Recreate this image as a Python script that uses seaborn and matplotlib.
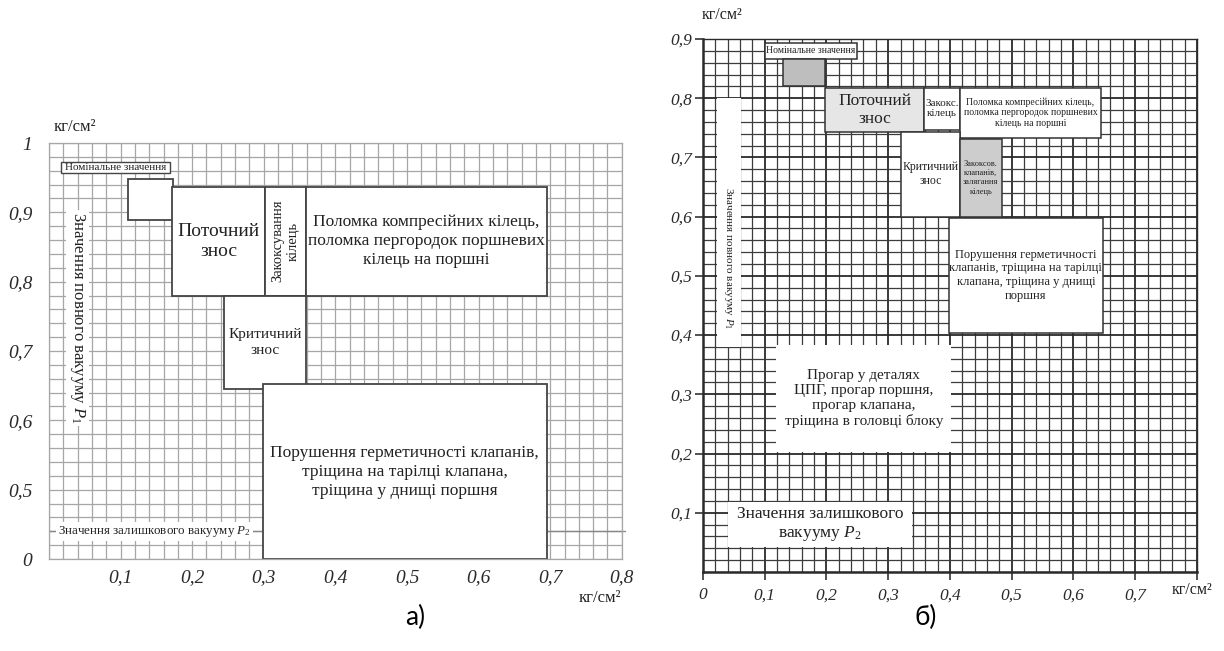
import numpy as np
import matplotlib.pyplot as plt
import seaborn as sns
from matplotlib.ticker import FixedLocator

sns.set_theme(style="white")
plt.rcParams['font.family'] = ['Liberation Serif', 'DejaVu Serif']
plt.rcParams['mathtext.fontset'] = 'custom'
plt.rcParams['mathtext.rm'] = 'Liberation Serif'
plt.rcParams['mathtext.it'] = 'Liberation Serif:italic'

# ---- panel а): zones, kg/cm2 (y below 0.5 is squeezed on the axis)
a_labels = ["Номінальне значення", "", "Поточний\nзнос", "Закоксування\nкілець",
            "Поломка компресійних кілець,\nполомка пергородок поршневих\nкілець на поршні",
            "Критичний\nзнос",
            "Порушення герметичності клапанів,\nтріщина на тарілці клапана,\nтріщина у днищі поршня"]
a_x0 = [0.017, 0.110, 0.172, 0.302, 0.359, 0.244, 0.299]
a_x1 = [0.169, 0.173, 0.302, 0.359, 0.695, 0.359, 0.695]
a_y0 = [0.957, 0.889, 0.780, 0.780, 0.780, 0.645, 0.0]
a_y1 = [0.973, 0.948, 0.937, 0.937, 0.937, 0.780, 0.652]
a_p2 = 0.2
a_xticks = [0.1, 0.2, 0.3, 0.4, 0.5, 0.6, 0.7, 0.8]
a_yticks = [0, 0.5, 0.6, 0.7, 0.8, 0.9, 1.0]
a_ylabels = ["0", "0,5", "0,6", "0,7", "0,8", "0,9", "1"]

# ---- panel б)
b_labels = ["Номінальне значення", "", "Поточний\nзнос", "Закокс.\nкілець",
            "Поломка компресійних кілець,\nполомка пергородок поршневих\nкілець на поршні",
            "Критичний\nзнос", "Закоксов.\nклапанів,\nзалягання\nкілець",
            "Порушення герметичності\nклапанів, тріщина на тарілці\nклапана, тріщина у днищі\nпоршня",
            "Прогар у деталях\nЦПГ, прогар поршня,\nпрогар клапана,\nтріщина в головці блоку",
            "Значення залишкового\nвакууму $P_2$", ""]
b_x0 = [0.100, 0.129, 0.198, 0.358, 0.416, 0.321, 0.416, 0.398, 0.119, 0.040, 0.023]
b_x1 = [0.250, 0.198, 0.358, 0.416, 0.645, 0.416, 0.484, 0.648, 0.402, 0.339, 0.061]
b_y0 = [0.867, 0.821, 0.743, 0.747, 0.733, 0.600, 0.600, 0.404, 0.203, 0.042, 0.380]
b_y1 = [0.893, 0.867, 0.818, 0.818, 0.818, 0.743, 0.731, 0.598, 0.383, 0.118, 0.800]
b_xticks = [0, 0.1, 0.2, 0.3, 0.4, 0.5, 0.6, 0.7, 0.8]
b_xlabels = ["0", "0,1", "0,2", "0,3", "0,4", "0,5", "0,6", "0,7", ""]
b_yticks = [0.1, 0.2, 0.3, 0.4, 0.5, 0.6, 0.7, 0.8, 0.9]

a_fs = [8, 8, 14, 10.5, 12.5, 11, 12.5]
b_fs = [7, 7, 12.5, 8, 7, 8.5, 6, 9, 11, 12.5, 7]
b_fill = ["white", "#bebebe", "#e6e6e6", "white", "white", "white", "#cdcdcd",
          "white", "white", "white", "white"]
b_edge = ["#333333"] * 8 + ["none"] * 3

fig = plt.figure(figsize=(12.24, 6.51), dpi=100)
fig.patch.set_facecolor("white")

# ================= а)
ax = fig.add_axes([0.040, 0.1413, 0.468, 0.639])
fwd = lambda y: np.where(y < 0.5, 0.4 + 0.2 * y, y)
inv = lambda v: np.where(v < 0.5, (v - 0.4) / 0.2, v)
ax.set_yscale("function", functions=(fwd, inv))
ax.set_xlim(0, 0.8)
ax.set_ylim(0, 1.0)
ax.set_axisbelow(True)
ax.xaxis.set_minor_locator(FixedLocator(np.arange(0, 0.801, 0.02)))
ax.yaxis.set_minor_locator(FixedLocator(list(np.arange(0, 0.5, 0.1)) + list(np.arange(0.5, 1.001, 0.02))))
ax.grid(which="both", color="#a6a6a6", lw=0.9)
ax.set_xticks(a_xticks)
ax.set_xticklabels([f"{v:.1f}".replace(".", ",") for v in a_xticks])
ax.set_yticks(a_yticks)
ax.set_yticklabels(a_ylabels)
ax.tick_params(which="both", length=0)
ax.tick_params(axis="y", pad=12)
ax.tick_params(axis="x", pad=7)
for lab in ax.get_xticklabels() + ax.get_yticklabels():
    lab.set_fontstyle("italic")
    lab.set_fontsize(14)
    lab.set_color("#2a2a2a")
for s in ax.spines.values():
    s.set_color("#a6a6a6")
    s.set_linewidth(0.9)

for i, lab in enumerate(a_labels):
    lw = 1.0 if i == 0 else 1.3
    ax.bar(a_x0[i], a_y1[i] - a_y0[i], width=a_x1[i] - a_x0[i], bottom=a_y0[i],
           align="edge", color="white", edgecolor="#444444", linewidth=lw, zorder=2)
    if lab:
        yc = (a_y0[i] + a_y1[i]) / 2 if i != 6 else 0.526
        ax.text((a_x0[i] + a_x1[i]) / 2, yc, lab, ha="center", va="center",
                fontsize=a_fs[i], color="#222222", rotation=90 if i == 3 else 0,
                linespacing=1.25, zorder=3)

# residual vacuum line + labels
ax.plot([0, 0.805], [a_p2, a_p2], color="#888888", lw=1.0, clip_on=False, zorder=1.5)
ax.text(0.147, a_p2, "Значення залишкового вакууму $P_2$", ha="center", va="center",
        fontsize=9.4, color="#222222", zorder=3,
        bbox=dict(facecolor="white", edgecolor="none", pad=1.5))
ax.text(0.040, 0.748, "Значення повного вакууму $P_1$", ha="center", va="center",
        rotation=-90, fontsize=12, color="#222222", zorder=3,
        bbox=dict(facecolor="white", edgecolor="none", pad=1.5))
ax.text(0.045, 1.038, "кг/см²", transform=ax.transAxes, ha="center", va="center",
        fontsize=12, color="#222222")
ax.text(0.962, -0.094, "кг/см²", transform=ax.transAxes, ha="center", va="center",
        fontsize=12, color="#222222")

# ================= б)
bx = fig.add_axes([0.5743, 0.1214, 0.4036, 0.8187])
bx.set_xlim(0, 0.8)
bx.set_ylim(0, 0.9)
bx.set_axisbelow(True)
bx.xaxis.set_minor_locator(FixedLocator(np.arange(0, 0.801, 0.02)))
bx.yaxis.set_minor_locator(FixedLocator(np.arange(0, 0.901, 0.02)))
bx.grid(which="minor", color="#3c3c3c", lw=0.9)
bx.grid(which="major", color="#2a2a2a", lw=1.3)
bx.set_xticks(b_xticks)
bx.set_xticklabels(b_xlabels)
bx.set_yticks(b_yticks)
bx.set_yticklabels([f"{v:.1f}".replace(".", ",") for v in b_yticks])
bx.tick_params(which="minor", length=0)
bx.tick_params(which="major", direction="out", length=6, width=1.2, color="#333333",
               left=True, bottom=True)
bx.tick_params(axis="y", pad=2)
bx.tick_params(axis="x", pad=5)
for lab in bx.get_xticklabels() + bx.get_yticklabels():
    lab.set_fontstyle("italic")
    lab.set_fontsize(12.5)
    lab.set_color("#2a2a2a")
for side, s in bx.spines.items():
    s.set_color("#2a2a2a")
    s.set_linewidth(1.8 if side in ("left", "bottom") else 1.0)

for i, lab in enumerate(b_labels):
    bx.bar(b_x0[i], b_y1[i] - b_y0[i], width=b_x1[i] - b_x0[i], bottom=b_y0[i],
           align="edge", color=b_fill[i], edgecolor=b_edge[i], linewidth=1.1, zorder=2)
    if lab:
        bx.text((b_x0[i] + b_x1[i]) / 2, (b_y0[i] + b_y1[i]) / 2, lab,
                ha="center", va="center", fontsize=b_fs[i], color="#222222",
                linespacing=1.2, zorder=3)

bx.text(0.042, 0.53, "Значення повного вакууму $P_1$", ha="center", va="center",
        rotation=-90, fontsize=8, color="#222222", zorder=3)
bx.text(0.038, 1.045, "кг/см²", transform=bx.transAxes, ha="center", va="center",
        fontsize=11.5, color="#222222")
bx.text(0.99, -0.034, "кг/см²", transform=bx.transAxes, ha="center", va="center",
        fontsize=11.5, color="#222222")

fig.text(0.339, 0.052, "а)", ha="center", va="center", fontsize=19,
         family=["Lato", "DejaVu Sans"], color="black")
fig.text(0.756, 0.052, "б)", ha="center", va="center", fontsize=19,
         family=["Lato", "DejaVu Sans"], color="black")

fig.savefig("out.png", dpi=100, facecolor="white")
